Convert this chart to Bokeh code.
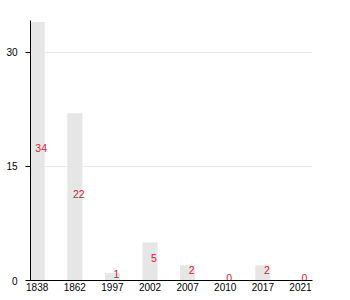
from bokeh.plotting import figure
from bokeh.models import ColumnDataSource, Range1d, FixedTicker
from bokeh.embed import file_html
from bokeh.resources import INLINE
from bokeh.core.properties import value

years = ["1838", "1862", "1997", "2002", "2007", "2010", "2017", "2021"]
counts = [34, 22, 1, 5, 2, 0, 2, 0]
y_ticks = [0, 15, 30]

xs = list(range(len(years)))
src = ColumnDataSource(dict(x=xs, top=counts, mid=[c / 2 for c in counts],
                            label=[str(c) for c in counts]))

p = figure(width=350, height=300, output_backend="svg", toolbar_location=None,
           x_range=Range1d(-0.178, 7.32), y_range=Range1d(0, 34.2),
           min_border_left=30, min_border_right=38, min_border_top=20, min_border_bottom=20)

p.vbar(x="x", top="top", width=0.4, source=src, fill_color="#e6e6e6", line_color=None)
p.text(x="x", y="mid", text="label", source=src, text_color="#e8132f",
       text_font=value("Liberation Sans"), text_font_size="10.5px",
       text_align="center", text_baseline="middle", x_offset=4, y_offset=-3)

p.outline_line_color = None
p.xgrid.grid_line_color = None
p.ygrid.grid_line_color = "#e8e8e8"
p.ygrid.ticker = FixedTicker(ticks=y_ticks[1:])

p.xaxis.ticker = FixedTicker(ticks=xs)
p.xaxis.major_label_overrides = {i: y for i, y in enumerate(years)}
p.xaxis.major_tick_line_color = None
p.xaxis.minor_tick_line_color = None
p.xaxis.major_tick_out = 0
p.xaxis.major_tick_in = 0
p.xaxis.major_label_standoff = 2
p.yaxis.ticker = FixedTicker(ticks=y_ticks)
p.yaxis.minor_tick_line_color = None
p.yaxis.major_tick_out = 5
p.yaxis.major_tick_in = 0
p.yaxis.major_label_standoff = 8
for ax in (p.xaxis, p.yaxis):
    ax.axis_line_color = "black"
    ax.major_label_text_font = "Liberation Sans"
    ax.major_label_text_font_size = "10px"
    ax.major_label_text_color = "black"

open("out.html", "w").write(file_html(p, INLINE))
